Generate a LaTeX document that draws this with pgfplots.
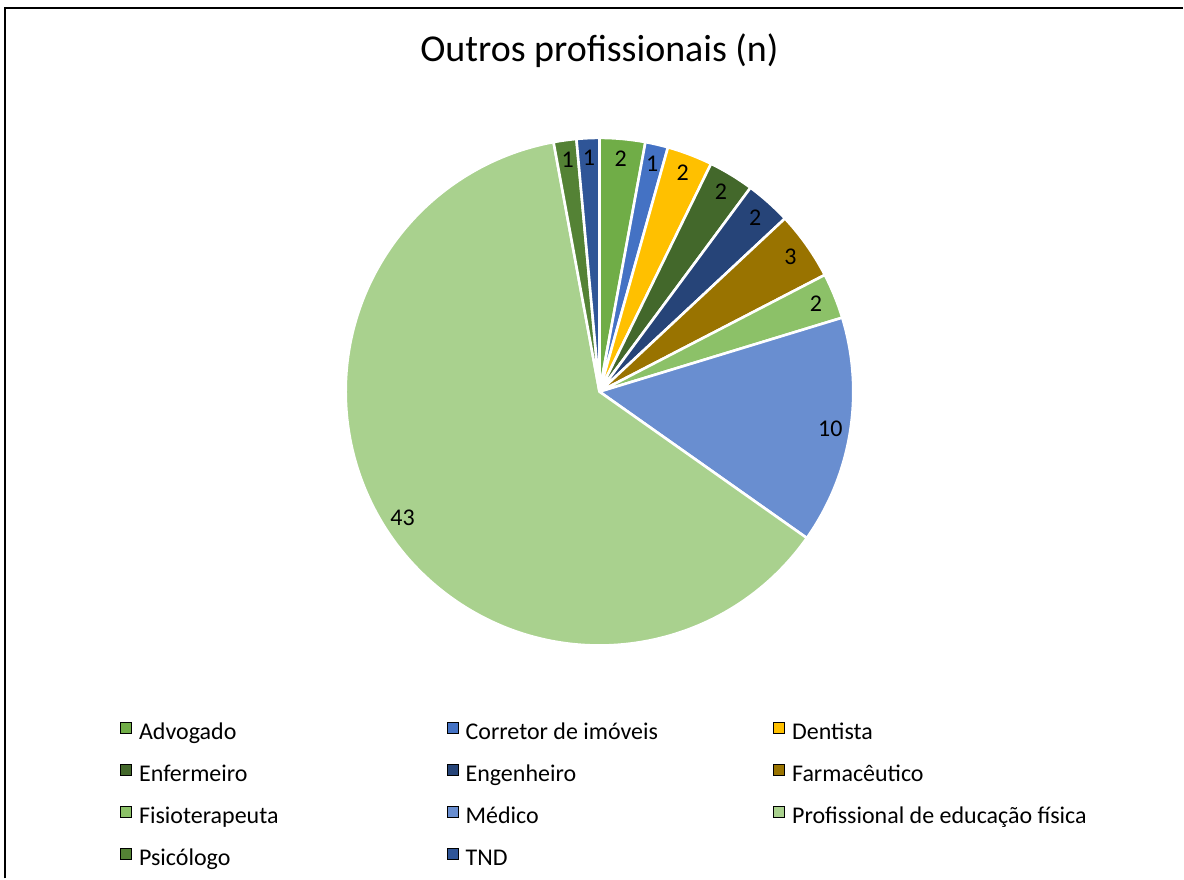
\documentclass[border=0pt]{standalone}
\usepackage{pgfplots}
\pgfplotsset{compat=1.18}
\usepackage{pgfplotstable}
\usepackage{fontspec}
\setmainfont{Carlito}

\definecolor{cAdv}{HTML}{70AD47}
\definecolor{cCor}{HTML}{4472C4}
\definecolor{cDen}{HTML}{FFC000}
\definecolor{cEnf}{HTML}{43682B}
\definecolor{cEng}{HTML}{264478}
\definecolor{cFar}{HTML}{997300}
\definecolor{cFis}{HTML}{8CC168}
\definecolor{cMed}{HTML}{698ED0}
\definecolor{cPro}{HTML}{A9D18E}
\definecolor{cPsi}{HTML}{548235}
\definecolor{cTnd}{HTML}{2F5597}

% one row per slice, clockwise from 12 o'clock
\pgfplotstableread[col sep=comma]{
name,value,color
Advogado,2,cAdv
Corretor de imóveis,1,cCor
Dentista,2,cDen
Enfermeiro,2,cEnf
Engenheiro,2,cEng
Farmacêutico,3,cFar
Fisioterapeuta,2,cFis
Médico,10,cMed
Profissional de educação física,43,cPro
Psicólogo,1,cPsi
TND,1,cTnd
}\slices

\pgfplotsset{
  sq/.style={legend image code/.code={\fill[fill=#1] (0pt,-2.75pt) rectangle (5.5pt,2.75pt);}}
}
\newcommand{\entry}[1]{\makebox[154pt][l]{\rule[-8pt]{0pt}{21pt}#1}}

\begin{document}
\begin{tikzpicture}
\begin{axis}[
  scale only axis,
  width=592pt, height=439.5pt,
  xmin=0, xmax=1184, ymin=0, ymax=879,
  y dir=reverse,
  hide axis,
  clip=false,
  legend columns=3,
  legend style={
    at={(axis cs:120,714)}, anchor=north west,
    draw=none, fill=none, inner sep=0pt,
    font=\fontsize{12}{14.4}\selectfont,
    nodes={inner sep=0pt},
    row sep=6.5pt,
    /tikz/every odd column/.append style={column sep=3.5pt},
    /tikz/every even column/.append style={column sep=0pt},
  },
]
\path (axis cs:0,0) rectangle (axis cs:1184,879);
\draw[line width=1pt] (axis cs:5,879) -- (axis cs:5,8) -- (axis cs:1184,8);
\node[font=\fontsize{19}{22}\selectfont] at (axis cs:600,51) {Outros profissionais (n)};

\def\total{0}
\pgfplotsforeachungrouped \i in {0,...,10} {
  \pgfplotstablegetelem{\i}{value}\of\slices
  \pgfmathsetmacro\total{\total+\pgfplotsretval}
}
\def\cum{0}
\pgfplotsforeachungrouped \i in {0,...,10} {
  \pgfplotstablegetelem{\i}{value}\of\slices \let\v\pgfplotsretval
  \pgfplotstablegetelem{\i}{color}\of\slices \let\c\pgfplotsretval
  \pgfmathsetmacro\aS{90-\cum/\total*360}
  \pgfmathsetmacro\aE{90-(\cum+\v)/\total*360}
  \pgfmathsetmacro\aM{(\aS+\aE)/2}
  \edef\temp{%
    \noexpand\fill[fill=\c, draw=white, line width=1.3pt, line join=round]
      (axis cs:600,392) -- ++(\aS:127pt)
      arc[start angle=\aS, end angle=\aE, radius=127pt] -- cycle;
    \noexpand\node[font=\noexpand\fontsize{12}{14}\noexpand\selectfont, text=black]
      at ([shift={(\aM:117pt)}]axis cs:600,392) {\v};
  }
  \temp
  \pgfmathsetmacro\cum{\cum+\v}
}

\addlegendimage{sq=cAdv}\addlegendentry{\entry{Advogado}}
\addlegendimage{sq=cCor}\addlegendentry{\entry{Corretor de imóveis}}
\addlegendimage{sq=cDen}\addlegendentry{\entry{Dentista}}
\addlegendimage{sq=cEnf}\addlegendentry{\entry{Enfermeiro}}
\addlegendimage{sq=cEng}\addlegendentry{\entry{Engenheiro}}
\addlegendimage{sq=cFar}\addlegendentry{\entry{Farmacêutico}}
\addlegendimage{sq=cFis}\addlegendentry{\entry{Fisioterapeuta}}
\addlegendimage{sq=cMed}\addlegendentry{\entry{Médico}}
\addlegendimage{sq=cPro}\addlegendentry{\entry{Profissional de educação física}}
\addlegendimage{sq=cPsi}\addlegendentry{\entry{Psicólogo}}
\addlegendimage{sq=cTnd}\addlegendentry{\entry{TND}}
\end{axis}
\end{tikzpicture}
\end{document}
